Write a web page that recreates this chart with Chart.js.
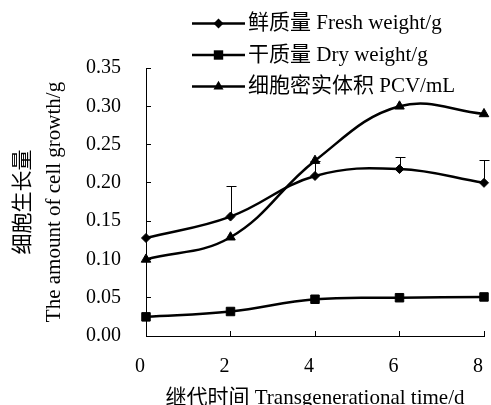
<!DOCTYPE html>
<html>
<head>
<meta charset="utf-8">
<script src="https://cdn.jsdelivr.net/npm/chart.js@4/dist/chart.umd.min.js"></script>
<style>
html,body{margin:0;padding:0;background:#fff;}
#c{display:block;}
</style>
</head>
<body>
<canvas id="c" width="491" height="405"></canvas>
<script>
// ---- data ----
const days = [0, 2, 4, 6, 8];
const freshWeight = [0.128, 0.156, 0.209, 0.218, 0.200];
const freshWeightErr = [0, 0.040, 0.020, 0.016, 0.030];
const dryWeight = [0.025, 0.032, 0.048, 0.050, 0.051];
const pcv = [0.100, 0.129, 0.229, 0.300, 0.290];
const seriesLabels = ['鲜质量 Fresh weight/g', '干质量 Dry weight/g', '细胞密实体积 PCV/mL'];
const seriesMarkers = ['rectRot', 'rect', 'triangle'];
const xTitle = '继代时间 Transgenerational time/d';
const yTitle = ['细胞生长量', 'The amount of cell growth/g'];

const FONT = "'Liberation Serif', 'Times New Roman', 'Noto Sans CJK SC', serif";

const toPts = (arr) => arr.map((v, i) => ({x: days[i], y: v}));

const errorBars = {
  id: 'errorBars',
  beforeDatasetsDraw(chart) {
    const {ctx, scales: {x, y}} = chart;
    ctx.save();
    ctx.strokeStyle = '#000';
    ctx.lineWidth = 1;
    freshWeightErr.forEach((e, i) => {
      if (!e) return;
      const px = Math.round(x.getPixelForValue(days[i])) + 0.5;
      const y0 = y.getPixelForValue(freshWeight[i]);
      const y1 = Math.round(y.getPixelForValue(freshWeight[i] + e)) + 0.5;
      ctx.beginPath();
      ctx.moveTo(px, y0);
      ctx.lineTo(px, y1);
      ctx.moveTo(px - 5, y1);
      ctx.lineTo(px + 5, y1);
      ctx.stroke();
    });
    ctx.restore();
  }
};

function drawMarker(ctx, style, cx, cy) {
  ctx.beginPath();
  if (style === 'rectRot') {
    const r = 5;
    ctx.moveTo(cx, cy - r); ctx.lineTo(cx + r, cy); ctx.lineTo(cx, cy + r); ctx.lineTo(cx - r, cy);
  } else if (style === 'rect') {
    const h = 4.7;
    ctx.rect(cx - h, cy - h, 2 * h, 2 * h);
  } else {
    const r = 5.8;
    ctx.moveTo(cx, cy - r); ctx.lineTo(cx + r * 0.866, cy + r / 2); ctx.lineTo(cx - r * 0.866, cy + r / 2);
  }
  ctx.closePath();
  ctx.fill();
}

const customLegend = {
  id: 'customLegend',
  afterDraw(chart) {
    const {ctx} = chart;
    const rows = [23.5, 55, 86.5];
    ctx.save();
    chart.data.datasets.forEach((ds, i) => {
      const yy = rows[i];
      ctx.strokeStyle = '#000';
      ctx.lineWidth = 2.5;
      ctx.beginPath();
      ctx.moveTo(192, yy);
      ctx.lineTo(245, yy);
      ctx.stroke();
      ctx.fillStyle = '#000';
      drawMarker(ctx, seriesMarkers[i], 218.5, yy);
      ctx.font = '21px ' + FONT;
      ctx.textBaseline = 'middle';
      ctx.textAlign = 'left';
      ctx.fillText(ds.label, 248, yy);
    });
    ctx.restore();
  }
};

const mkDs = (label, data, style, r) => ({
  label, data: toPts(data),
  borderColor: '#000', backgroundColor: '#000',
  borderWidth: 2.5, tension: 0.4,
  pointStyle: style, pointRadius: r, pointBorderWidth: 1,
  pointBackgroundColor: '#000', pointBorderColor: '#000',
  clip: false
});

new Chart(document.getElementById('c'), {
  type: 'line',
  data: {
    datasets: [
      mkDs(seriesLabels[0], freshWeight, seriesMarkers[0], 4.5),
      mkDs(seriesLabels[1], dryWeight, seriesMarkers[1], 6),
      mkDs(seriesLabels[2], pcv, seriesMarkers[2], 5.5)
    ]
  },
  options: {
    responsive: false,
    devicePixelRatio: 1,
    animation: false,
    layout: {padding: {left: 0, right: 5, top: 68, bottom: 0}},
    plugins: {legend: {display: false}, tooltip: {enabled: false}},
    scales: {
      x: {
        type: 'linear', min: 0, max: 8,
        afterFit(s) { s.height = 69; s.paddingLeft = 0; s.paddingRight = 0; },
        grid: {drawOnChartArea: false, tickLength: -5, color: '#000', tickColor: '#000'},
        border: {color: '#000', width: 1},
        ticks: {stepSize: 2, color: '#000', padding: 24, labelOffset: -6, maxRotation: 0,
          font: {family: FONT, size: 20}},
        title: {display: true, text: xTitle, color: '#000',
          font: {family: FONT, size: 21, lineHeight: 1}, padding: {top: 0, bottom: -4}}
      },
      y: {
        min: 0, max: 0.35,
        afterFit(s) { s.width = 146; },
        grid: {drawOnChartArea: false, tickLength: -5, color: '#000', tickColor: '#000'},
        border: {color: '#000', width: 1},
        ticks: {stepSize: 0.05, color: '#000', padding: 30,
          callback: v => Number(v).toFixed(2),
          font: {family: FONT, size: 20}},
        title: {display: true, text: yTitle, color: '#000',
          font: {family: FONT, size: 21, lineHeight: '31px'}, padding: {top: 8, bottom: 0}}
      }
    }
  },
  plugins: [errorBars, customLegend]
});
</script>
</body>
</html>
